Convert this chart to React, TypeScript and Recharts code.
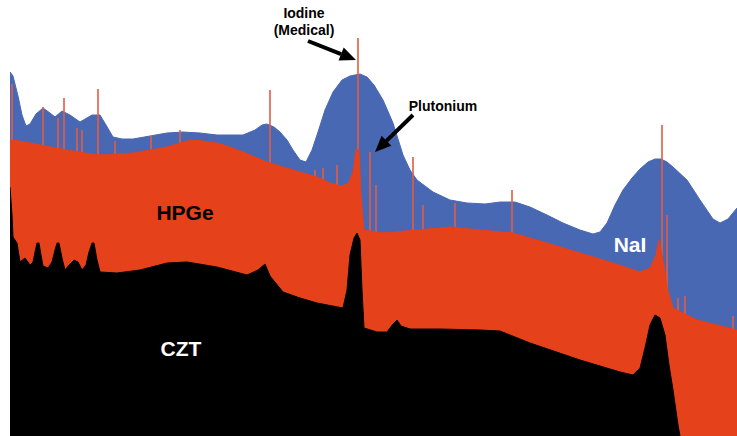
import React from "react";
import { ComposedChart, Area, XAxis, YAxis, ReferenceLine, ReferenceDot } from "recharts";

// [channel, counts] (counts grow upward)
const naiCounts: [number, number][] = [
  [10, 364], [13, 360], [18, 340], [22, 321], [26, 310], [30, 312], [36, 322], [43, 328],
  [50, 323], [55, 319], [62, 325], [70, 321], [80, 314], [92, 321], [100, 321], [106, 311],
  [113, 299], [122, 297], [133, 297], [150, 300], [167, 303], [183, 304], [200, 303],
  [217, 301], [243, 301], [255, 306], [262, 311], [267, 312], [274, 309], [280, 304],
  [287, 296], [293, 286], [300, 276], [306, 274], [312, 286], [318, 304], [325, 326],
  [333, 344], [342, 356], [350, 360], [360, 362], [367, 359], [374, 351], [383, 336],
  [393, 313], [403, 281], [410, 266], [417, 256], [433, 244], [450, 236], [467, 233],
  [485, 232], [500, 234], [515, 234], [530, 229], [547, 221], [563, 213], [580, 206],
  [593, 202], [600, 204], [607, 213], [615, 231], [623, 246], [632, 258], [640, 267],
  [648, 274], [655, 277], [661, 277], [667, 274], [673, 269], [687, 256], [700, 236],
  [713, 217], [720, 213], [728, 217], [737, 228],
];

const hpgeCounts: [number, number][] = [
  [10, 296], [20, 295], [40, 291], [67, 286], [85, 283], [100, 281], [117, 282], [133, 283],
  [150, 286], [167, 289], [180, 293], [190, 296], [203, 295], [217, 293], [230, 289],
  [243, 284], [255, 279], [267, 274], [283, 269], [300, 264], [317, 259], [330, 253],
  [340, 250], [348, 252], [353, 264], [356, 286], [359, 286], [361, 241], [364, 206],
  [383, 203], [417, 206], [450, 209], [480, 206], [513, 203], [547, 193], [580, 183],
  [613, 173], [640, 164], [650, 168], [656, 181], [659, 196], [664, 171], [667, 149],
  [673, 128], [697, 116], [737, 106],
];

// sharp gamma lines of the HPGe detector: [channel, peak counts]
const hpgeLines: [number, number][] = [
  [12, 352], [43, 329], [58, 318], [64, 338], [77, 308], [82, 306], [98, 347], [115, 295],
  [151, 300], [180, 306], [270, 346], [315, 266], [323, 268], [337, 271], [358, 398],
  [370, 284], [376, 251], [413, 279], [423, 231], [455, 233], [512, 246], [662, 311],
  [667, 221], [678, 138], [685, 140], [733, 120],
];

const cztCounts: [number, number][] = [
  [10, 249], [12, 221], [13, 199], [17, 193], [20, 174], [25, 178], [30, 171], [33, 174],
  [35, 184], [37, 193], [39, 193], [41, 181], [43, 170], [48, 168], [52, 174], [55, 186],
  [57, 193], [59, 193], [62, 178], [65, 166], [70, 172], [74, 176], [78, 174], [82, 166],
  [86, 171], [89, 184], [92, 193], [94, 193], [97, 176], [100, 164], [117, 163], [140, 166],
  [167, 173], [187, 174], [217, 169], [247, 161], [258, 166], [265, 172], [270, 160],
  [283, 144], [300, 138], [317, 133], [343, 128], [347, 146], [350, 181], [354, 198],
  [357, 203], [360, 196], [362, 146], [364, 108], [377, 104], [387, 104], [393, 112],
  [397, 116], [401, 110], [410, 107], [440, 107], [480, 106], [500, 105], [530, 93],
  [580, 76], [620, 64], [633, 61], [640, 68], [645, 88], [650, 111], [655, 121], [660, 118],
  [665, 101], [669, 71], [673, 46], [678, 11], [680, 0],
];

const NAI = "#4868b4";
const HPGE = "#e5411b";
const LINE = "#e45c44";
const LINE_HALF = 0.8;

type Row = { ch: number; nai?: number; hpge?: number; line?: number; czt?: number };
const rows = new Map<number, Row>();
const put = (ch: number, key: keyof Row, v: number) => {
  const r = rows.get(ch) ?? { ch };
  (r as any)[key] = v;
  rows.set(ch, r);
};
naiCounts.forEach(([c, v]) => put(c, "nai", v));
hpgeCounts.forEach(([c, v]) => put(c, "hpge", v));
cztCounts.forEach(([c, v]) => put(c, "czt", v));
// each line becomes a narrow step: up at its left edge, back to zero at its right edge
hpgeLines.forEach(([c, v]) => {
  put(c - LINE_HALF, "line", v);
  put(c + LINE_HALF, "line", 0);
});
const data = Array.from(rows.values()).sort((a, b) => a.ch - b.ch);

const Arrow = (props: any) => {
  const { x1, y1, x2, y2 } = props;
  const ang = Math.atan2(y2 - y1, x2 - x1);
  const len = 16;
  const half = 7;
  const bx = x2 - len * Math.cos(ang);
  const by = y2 - len * Math.sin(ang);
  const px = -Math.sin(ang) * half;
  const py = Math.cos(ang) * half;
  return (
    <g>
      <line x1={x1} y1={y1} x2={bx} y2={by} stroke="#000" strokeWidth={4} />
      <polygon points={`${x2},${y2} ${bx + px},${by + py} ${bx - px},${by - py}`} fill="#000" />
    </g>
  );
};

const textShape = (lines: string[], size: number, color: string) => (p: any) => (
  <text
    x={p.cx}
    y={p.cy}
    textAnchor="middle"
    fontFamily="'Liberation Sans', Arial, sans-serif"
    fontWeight="bold"
    fontSize={size}
    fill={color}
  >
    {lines.map((t, i) => (
      <tspan key={t} x={p.cx} dy={i === 0 ? 0 : size * 1.2}>
        {t}
      </tspan>
    ))}
  </text>
);

export default function App() {
  return (
    <div style={{ position: "absolute", left: 0, top: 0, width: 737, height: 436, background: "#fff" }}>
      <ComposedChart width={737} height={436} data={data} margin={{ top: 0, right: 0, left: 10, bottom: 0 }}>
        <XAxis dataKey="ch" type="number" domain={[10, 737]} hide allowDataOverflow />
        <YAxis type="number" domain={[0, 436]} hide allowDataOverflow />
        <Area type="linear" dataKey="nai" connectNulls stroke={NAI} strokeWidth={1} fill={NAI} fillOpacity={1} isAnimationActive={false} />
        <Area type="stepAfter" dataKey="line" connectNulls stroke="none" fill={LINE} fillOpacity={1} isAnimationActive={false} />
        <Area type="linear" dataKey="hpge" connectNulls stroke={HPGE} strokeWidth={1} fill={HPGE} fillOpacity={1} isAnimationActive={false} />
        <Area type="linear" dataKey="czt" connectNulls stroke="#000" strokeWidth={1} fill="#000" fillOpacity={1} isAnimationActive={false} />
        <ReferenceLine segment={[{ x: 308, y: 395 }, { x: 356, y: 376 }]} shape={Arrow} />
        <ReferenceLine segment={[{ x: 413, y: 321 }, { x: 375, y: 284 }]} shape={Arrow} />
        <ReferenceDot x={304} y={418} r={0} shape={textShape(["Iodine", "(Medical)"], 14, "#000")} />
        <ReferenceDot x={443} y={325} r={0} shape={textShape(["Plutonium"], 14, "#000")} />
        <ReferenceDot x={185} y={216} r={0} shape={textShape(["HPGe"], 21, "#000")} />
        <ReferenceDot x={630} y={184} r={0} shape={textShape(["NaI"], 21, "#fff")} />
        <ReferenceDot x={181} y={80} r={0} shape={textShape(["CZT"], 21, "#fff")} />
      </ComposedChart>
    </div>
  );
}
